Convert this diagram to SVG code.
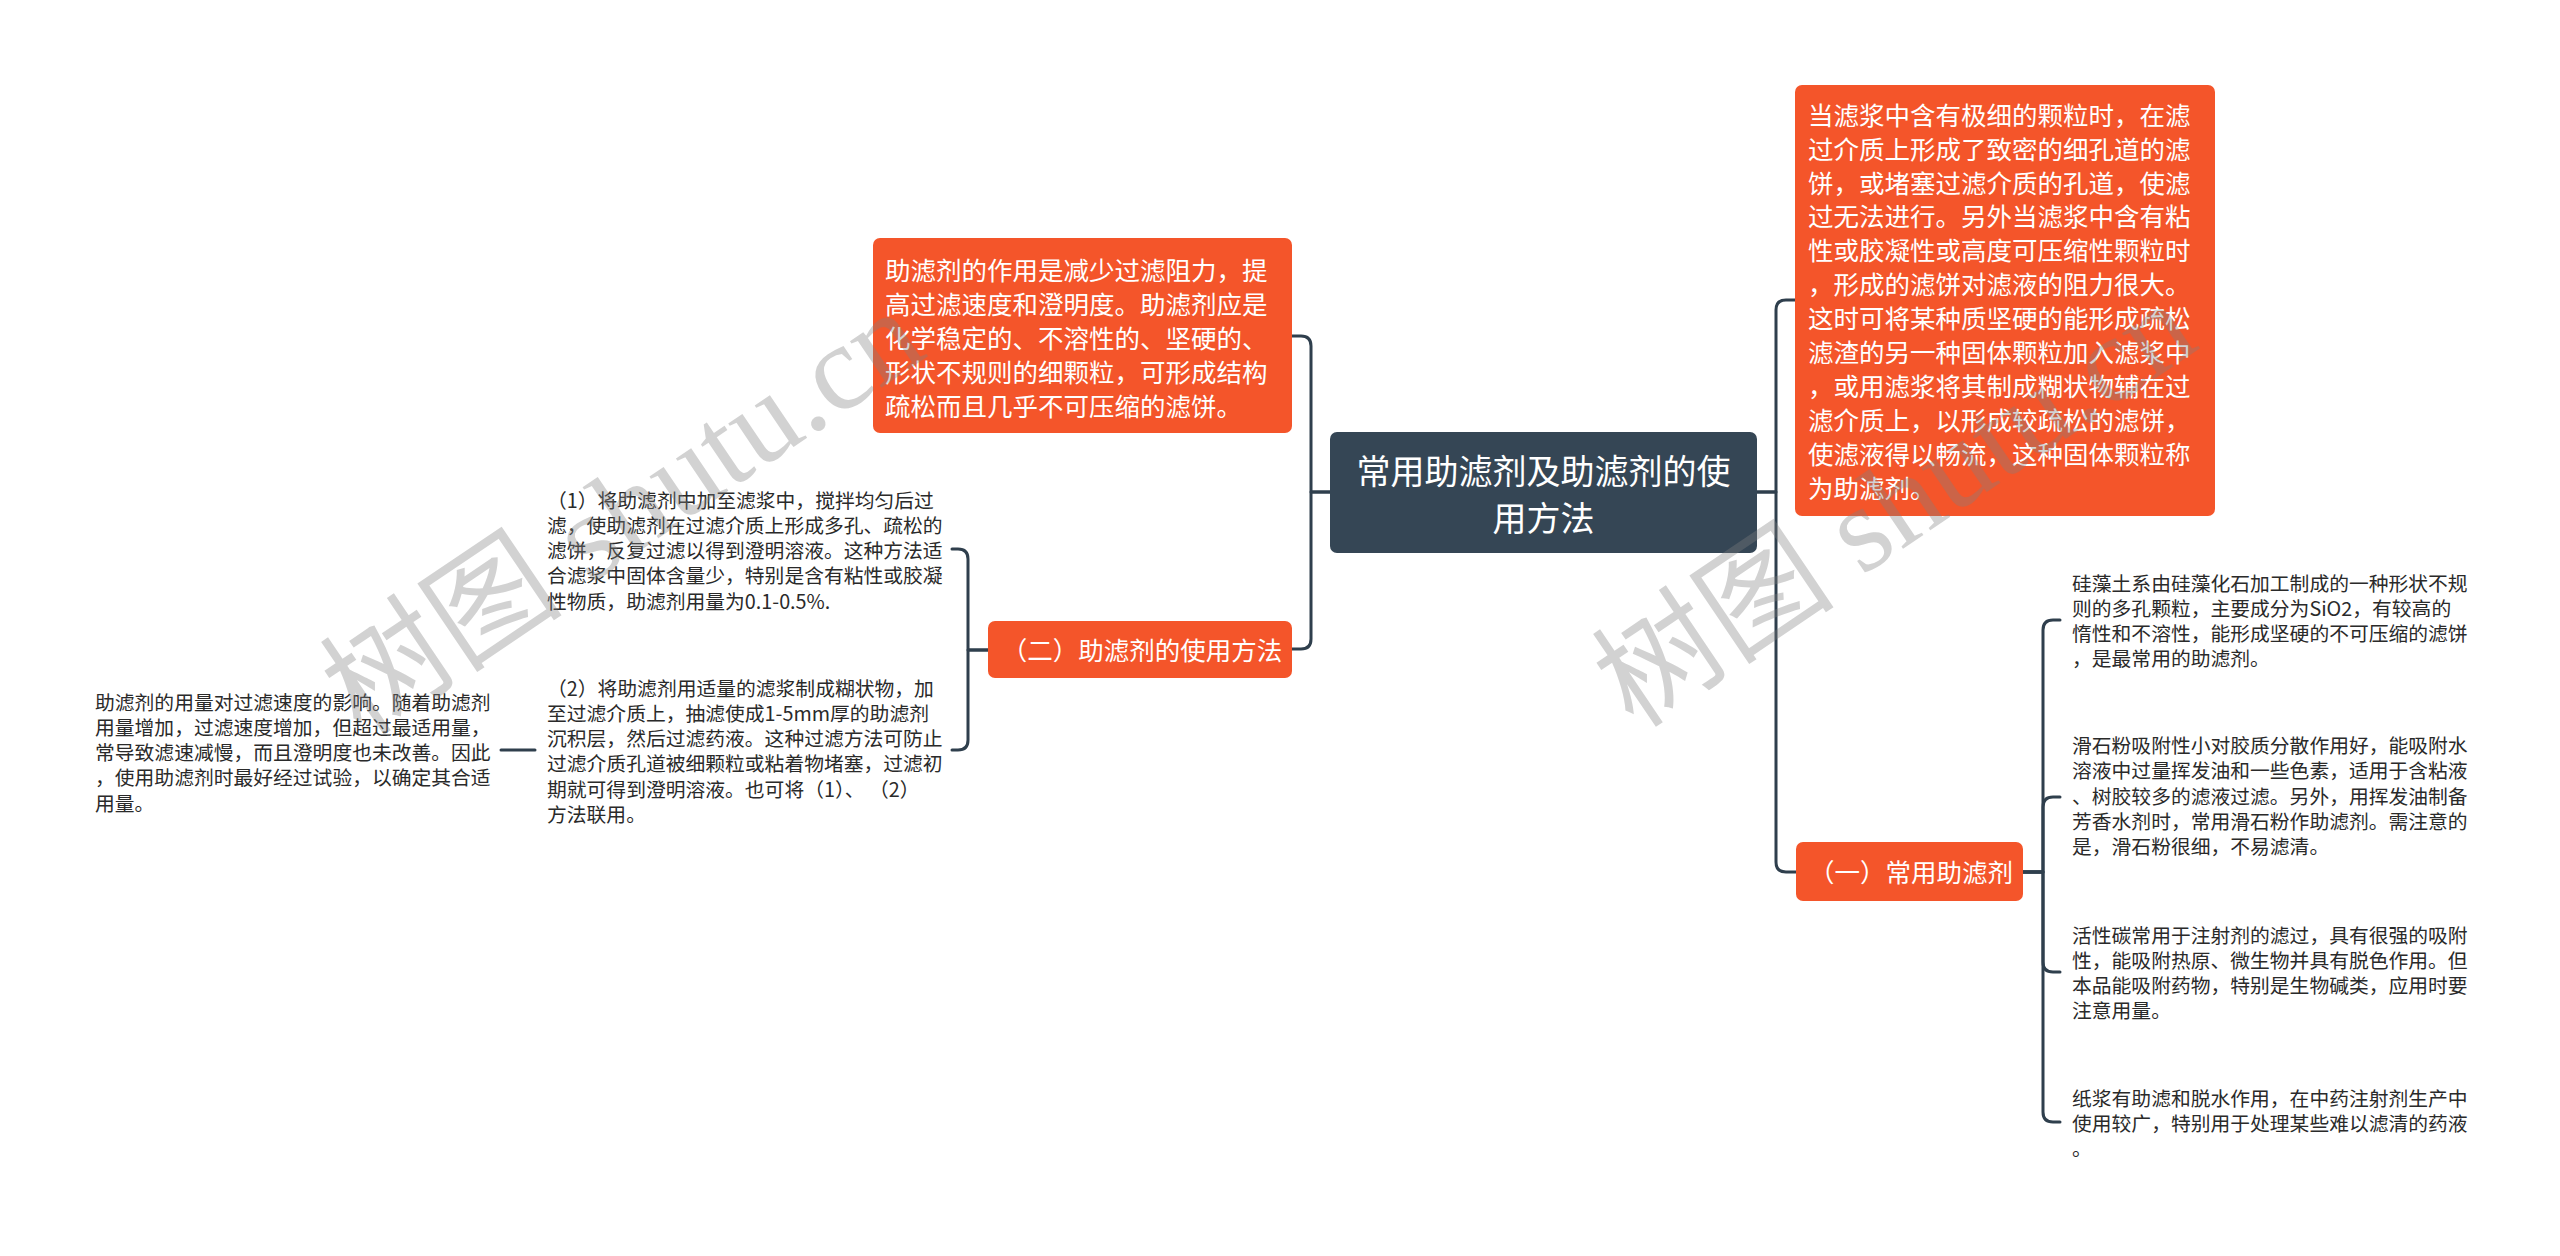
<svg xmlns="http://www.w3.org/2000/svg" width="2560" height="1256" viewBox="0 0 2560 1256">
<style>
.bg{fill:#ffffff}
.org{fill:#f4552a}
.dark{fill:#354655}
.conn{fill:none;stroke:#2f3f4d;stroke-width:3;stroke-linecap:round;stroke-linejoin:round}
.t{font-family:"Noto Sans CJK SC","Noto Sans",sans-serif}
.wt{fill:#ffffff;font-size:25.5px}
.ct{fill:#ffffff;font-size:34px;text-anchor:middle}
.bt{fill:#ffffff;font-size:25.5px;text-anchor:middle}
.lt{fill:#2a2a2a;font-size:19.8px}
.wm{font-family:"Liberation Serif","Noto Sans CJK SC",serif;font-size:122px;fill:#808080;opacity:0.35}
</style>
<rect class="bg" x="0" y="0" width="2560" height="1256"/>

<g id="connectors">
<path class="conn" d="M1330,492 H1311 V346 Q1311,336 1301,336 H1292"/>
<path class="conn" d="M1330,492 H1311 V639 Q1311,649 1301,649 H1292"/>
<path class="conn" d="M1757,492 H1776 V310 Q1776,300 1786,300 H1795"/>
<path class="conn" d="M1757,492 H1776 V862 Q1776,872 1786,872 H1796"/>
<path class="conn" d="M988,650 H968 V559 Q968,549 958,549 H952"/>
<path class="conn" d="M988,650 H968 V740 Q968,750 958,750 H952"/>
<path class="conn" d="M535,750 H501"/>
<path class="conn" d="M2023,872 H2043 V630 Q2043,620 2053,620 H2060"/>
<path class="conn" d="M2023,872 H2043 V807 Q2043,797 2053,797 H2060"/>
<path class="conn" d="M2023,872 H2043 V962 Q2043,972 2053,972 H2060"/>
<path class="conn" d="M2023,872 H2043 V1112 Q2043,1122 2053,1122 H2060"/>
</g>

<g id="root">
<rect class="dark" x="1330" y="432" width="427" height="121" rx="7"/>
<text class="t ct"><tspan x="1543.5" y="484">常用助滤剂及助滤剂的使</tspan><tspan x="1543.5" y="531">用方法</tspan></text>
</g>

<g id="node-role">
<rect class="org" x="873" y="238" width="419" height="195" rx="7"/>
<text class="t wt">
<tspan x="885" y="280">助滤剂的作用是减少过滤阻力，提</tspan>
<tspan x="885" y="314">高过滤速度和澄明度。助滤剂应是</tspan>
<tspan x="885" y="348">化学稳定的、不溶性的、坚硬的、</tspan>
<tspan x="885" y="382">形状不规则的细颗粒，可形成结构</tspan>
<tspan x="885" y="416">疏松而且几乎不可压缩的滤饼。</tspan>
</text>
</g>

<g id="node-definition">
<rect class="org" x="1795" y="85" width="420" height="431" rx="7"/>
<text class="t wt">
<tspan x="1808" y="125">当滤浆中含有极细的颗粒时，在滤</tspan>
<tspan x="1808" y="159">过介质上形成了致密的细孔道的滤</tspan>
<tspan x="1808" y="193">饼，或堵塞过滤介质的孔道，使滤</tspan>
<tspan x="1808" y="226">过无法进行。另外当滤浆中含有粘</tspan>
<tspan x="1808" y="260">性或胶凝性或高度可压缩性颗粒时</tspan>
<tspan x="1808" y="294">，形成的滤饼对滤液的阻力很大。</tspan>
<tspan x="1808" y="328">这时可将某种质坚硬的能形成疏松</tspan>
<tspan x="1808" y="362">滤渣的另一种固体颗粒加入滤浆中</tspan>
<tspan x="1808" y="396">，或用滤浆将其制成糊状物辅在过</tspan>
<tspan x="1808" y="430">滤介质上，以形成较疏松的滤饼，</tspan>
<tspan x="1808" y="464">使滤液得以畅流，这种固体颗粒称</tspan>
<tspan x="1808" y="498">为助滤剂。</tspan>
</text>
</g>

<g id="node-usage">
<rect class="org" x="988" y="621" width="304" height="57" rx="7"/>
<text class="t bt" x="1142" y="660">（二）助滤剂的使用方法</text>
</g>

<g id="node-common">
<rect class="org" x="1796" y="842" width="227" height="59" rx="7"/>
<text class="t bt" x="1911" y="882">（一）常用助滤剂</text>
</g>

<g id="node-usage-1">
<text class="t lt">
<tspan x="547" y="507.5">（1）将助滤剂中加至滤浆中，搅拌均匀后过</tspan>
<tspan x="547" y="532.8">滤，使助滤剂在过滤介质上形成多孔、疏松的</tspan>
<tspan x="547" y="558.1">滤饼，反复过滤以得到澄明溶液。这种方法适</tspan>
<tspan x="547" y="583.4">合滤浆中固体含量少，特别是含有粘性或胶凝</tspan>
<tspan x="547" y="608.7">性物质，助滤剂用量为0.1-0.5%.</tspan>
</text>
</g>

<g id="node-usage-2">
<text class="t lt">
<tspan x="547" y="695.5">（2）将助滤剂用适量的滤浆制成糊状物，加</tspan>
<tspan x="547" y="720.8">至过滤介质上，抽滤使成1-5mm厚的助滤剂</tspan>
<tspan x="547" y="746.1">沉积层，然后过滤药液。这种过滤方法可防止</tspan>
<tspan x="547" y="771.4">过滤介质孔道被细颗粒或粘着物堵塞，过滤初</tspan>
<tspan x="547" y="796.7">期就可得到澄明溶液。也可将（1）、 （2）</tspan>
<tspan x="547" y="822">方法联用。</tspan>
</text>
</g>

<g id="node-dosage">
<text class="t lt">
<tspan x="95" y="709.5">助滤剂的用量对过滤速度的影响。随着助滤剂</tspan>
<tspan x="95" y="734.8">用量增加，过滤速度增加，但超过最适用量，</tspan>
<tspan x="95" y="760.1">常导致滤速减慢，而且澄明度也未改善。因此</tspan>
<tspan x="95" y="785.4">，使用助滤剂时最好经过试验，以确定其合适</tspan>
<tspan x="95" y="810.7">用量。</tspan>
</text>
</g>

<g id="node-diatomite">
<text class="t lt">
<tspan x="2072" y="590.5">硅藻土系由硅藻化石加工制成的一种形状不规</tspan>
<tspan x="2072" y="615.5">则的多孔颗粒，主要成分为SiO2，有较高的</tspan>
<tspan x="2072" y="640.5">惰性和不溶性，能形成坚硬的不可压缩的滤饼</tspan>
<tspan x="2072" y="665.5">，是最常用的助滤剂。</tspan>
</text>
</g>

<g id="node-talc">
<text class="t lt">
<tspan x="2072" y="753">滑石粉吸附性小对胶质分散作用好，能吸附水</tspan>
<tspan x="2072" y="778.3">溶液中过量挥发油和一些色素，适用于含粘液</tspan>
<tspan x="2072" y="803.6">、树胶较多的滤液过滤。另外，用挥发油制备</tspan>
<tspan x="2072" y="828.9">芳香水剂时，常用滑石粉作助滤剂。需注意的</tspan>
<tspan x="2072" y="854.2">是，滑石粉很细，不易滤清。</tspan>
</text>
</g>

<g id="node-carbon">
<text class="t lt">
<tspan x="2072" y="942.5">活性碳常用于注射剂的滤过，具有很强的吸附</tspan>
<tspan x="2072" y="967.8">性，能吸附热原、微生物并具有脱色作用。但</tspan>
<tspan x="2072" y="993.1">本品能吸附药物，特别是生物碱类，应用时要</tspan>
<tspan x="2072" y="1018.4">注意用量。</tspan>
</text>
</g>

<g id="node-pulp">
<text class="t lt">
<tspan x="2072" y="1105.5">纸浆有助滤和脱水作用，在中药注射剂生产中</tspan>
<tspan x="2072" y="1130.8">使用较广，特别用于处理某些难以滤清的药液</tspan>
<tspan x="2072" y="1156.1">。</tspan>
</text>
</g>

<g id="watermarks">
<text class="wm" transform="translate(362,738) rotate(-34)">树图 shutu.cn</text>
<text class="wm" transform="translate(1634,730) rotate(-34)">树图 shutu.cn</text>
</g>
</svg>
